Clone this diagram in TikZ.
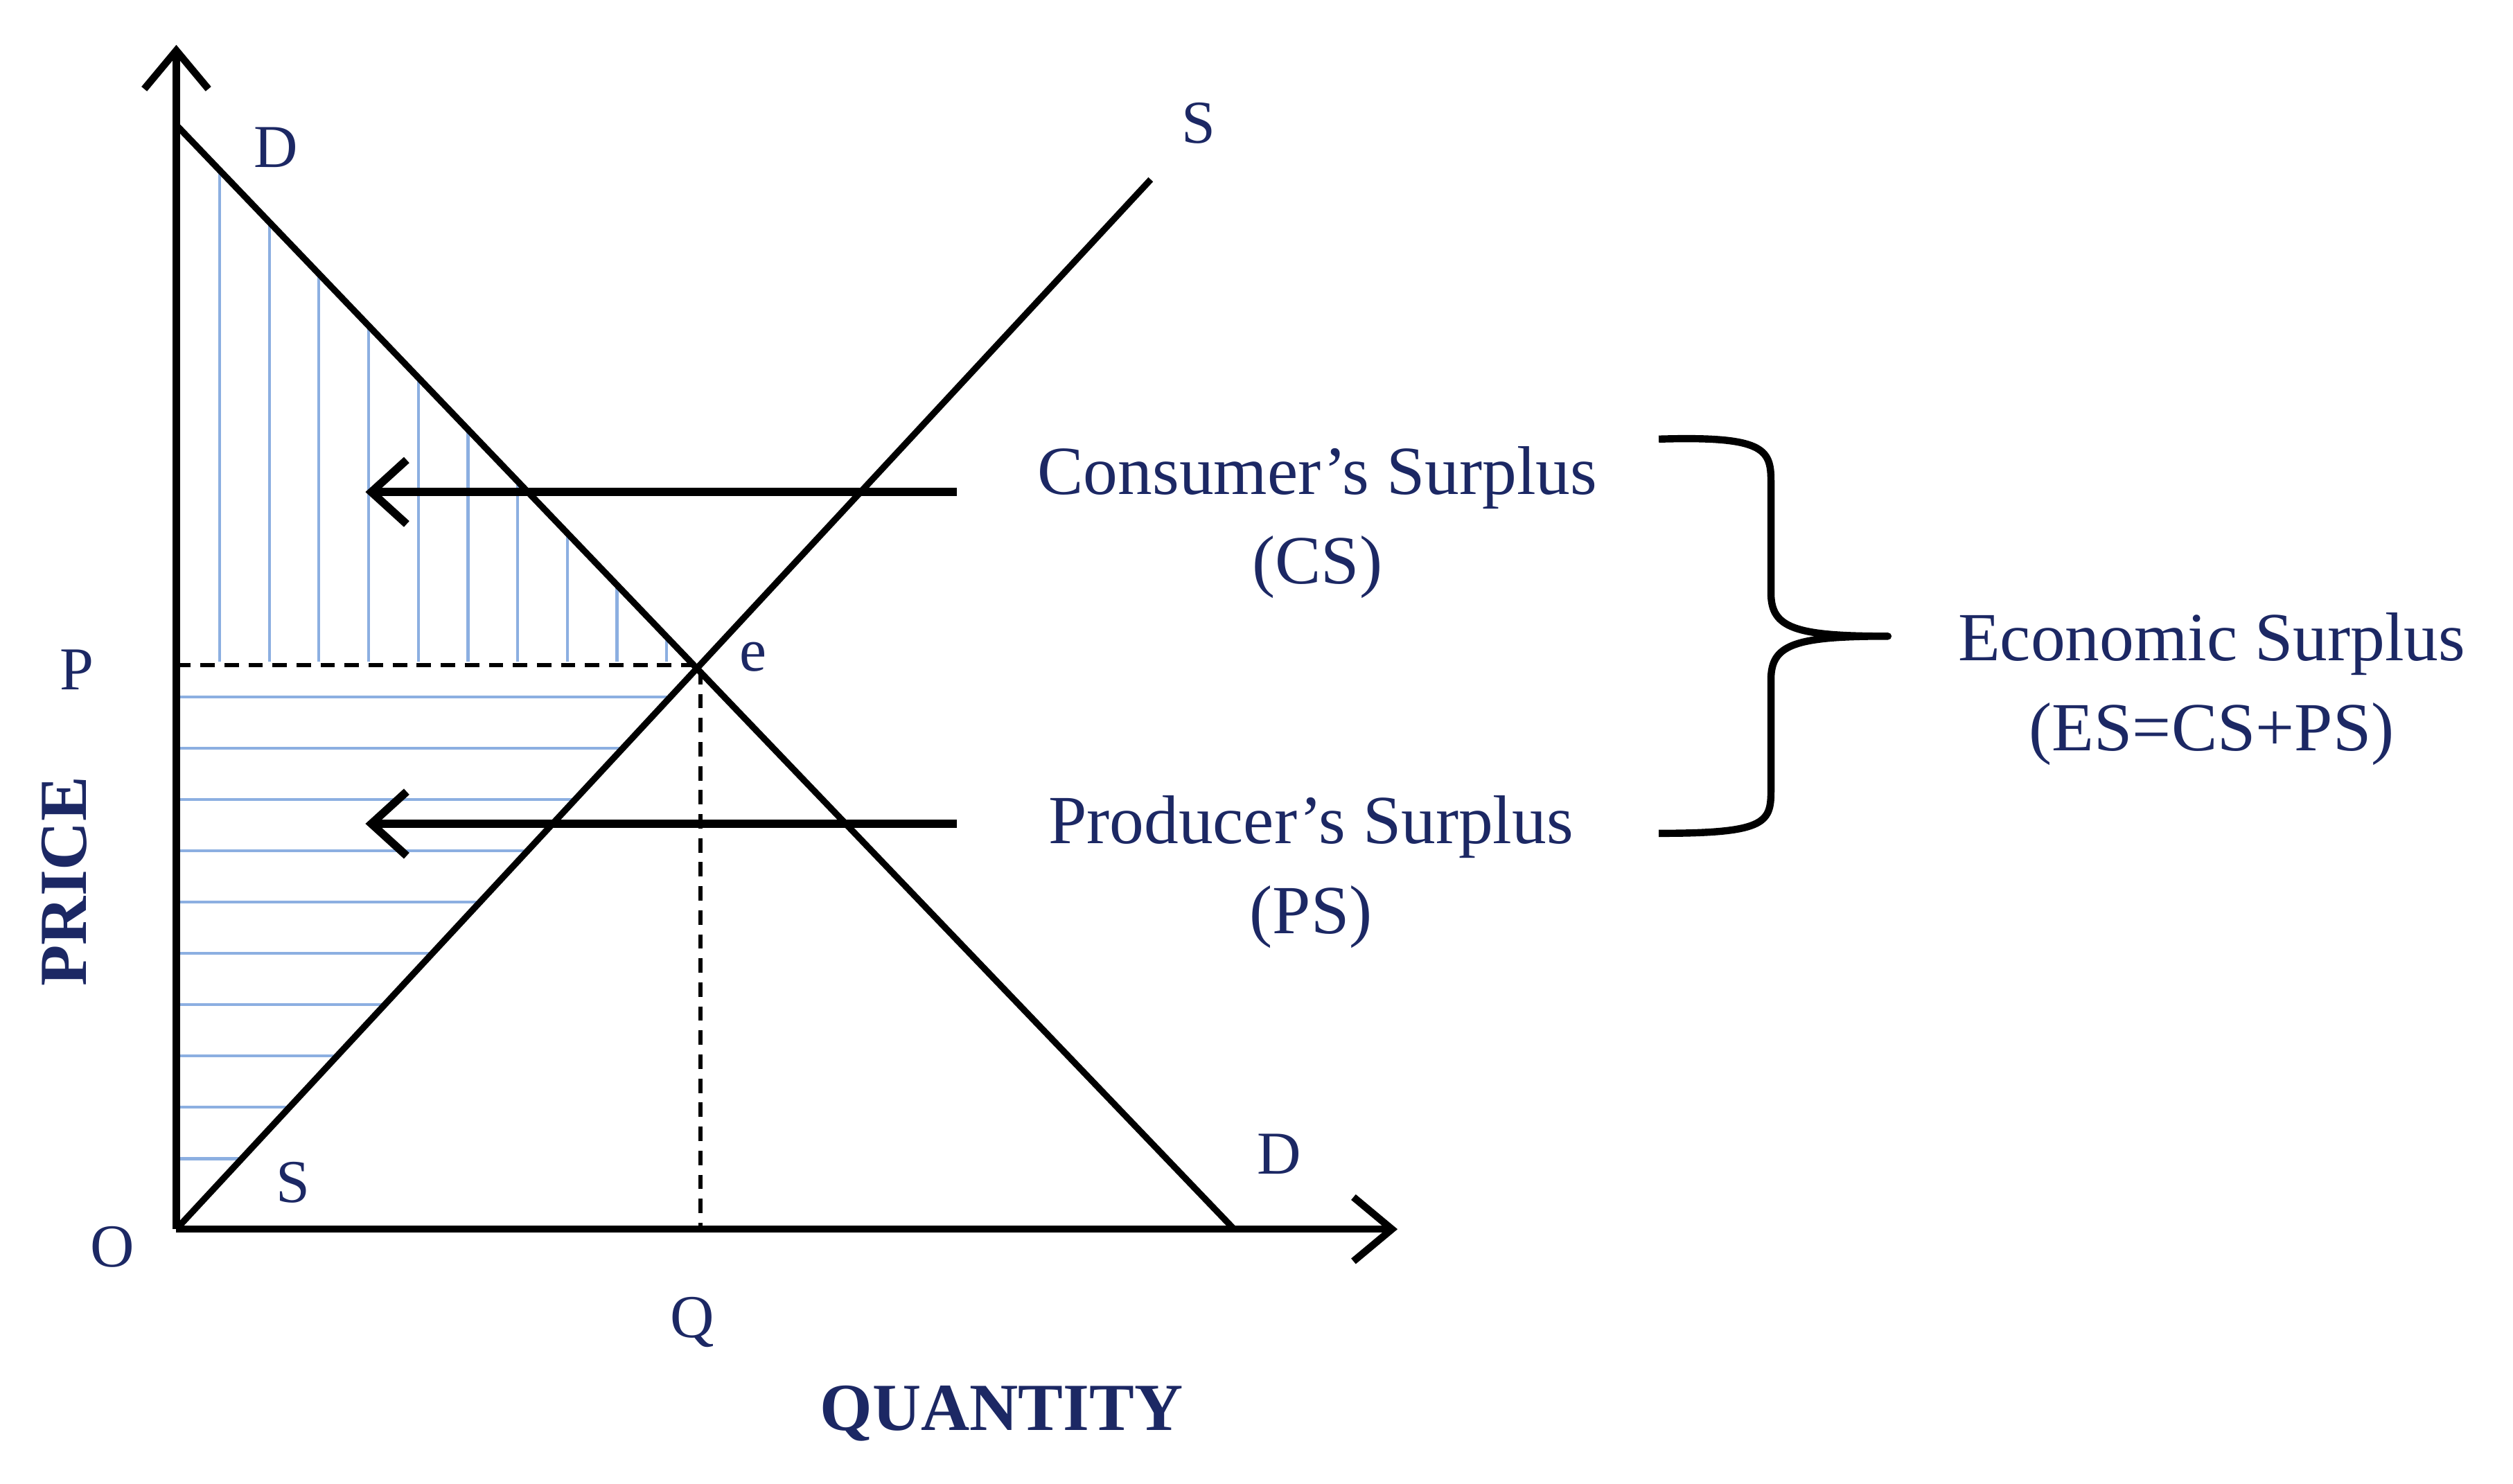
\documentclass[tikz,border=0pt]{standalone}
\usepackage{fontspec}
\setmainfont{Liberation Serif}
\usetikzlibrary{arrows.meta}
\definecolor{navy}{RGB}{28,40,100}
\definecolor{hatch}{RGB}{140,175,225}
\tikzset{lbl/.style={text=navy,font=\fontsize{38}{42}\selectfont},
big/.style={text=navy,font=\fontsize{43}{56}\selectfont,align=center},
axis/.style={line width=4.5pt,-{Straight Barb[length=24pt,width=40pt,line width=4.5pt]}},
curve/.style={line width=4pt},
hl/.style={hatch,line width=1.8pt}}
\begin{document}
\begin{tikzpicture}[x=1pt,y=-1pt]
\useasboundingbox (0,0) rectangle (1568,926);
% hatching
\foreach \x in {137,168,...,420}{\draw[hl] (\x,413) -- (\x,{78+(\x-110)/660*689});}
\foreach \y in {435,467,...,740}{\draw[hl] (110,\y) -- ({110+(767-\y)/655*608},\y);}
\coordinate (O) at (110,767);
\coordinate (ytop) at (110,28);
\coordinate (xend) at (872,767);
\coordinate (d1) at (110,78); \coordinate (d2) at (770,767);
\coordinate (s2) at (718,112);
\coordinate (E) at (437,415);
\coordinate (Py) at (110,415); \coordinate (Qx) at (437,767);
\draw[axis] (O) -- (ytop);
\draw[axis] (O) -- (xend);
\draw[curve] (d1) -- (d2);
\draw[curve] (O) -- (s2);
\draw[line width=2.5pt,dash pattern=on 9pt off 6pt] (Py) -- (E) -- (Qx);
\coordinate (a1s) at (597,307); \coordinate (a1e) at (228,307);
\coordinate (a2s) at (597,514); \coordinate (a2e) at (228,514);
\draw[line width=5pt,-{Straight Barb[length=22pt,width=40pt,line width=5pt]}] (a1s) -- (a1e);
\draw[line width=5pt,-{Straight Barb[length=22pt,width=40pt,line width=5pt]}] (a2s) -- (a2e);
\node[lbl] (lD1) at (172,92) {D};
\node[lbl] (lS1) at (748,77) {S};
\node[lbl] (lP) at (48,418) {P};
\node[lbl] (le) at (470,410) {e};
\node[lbl] (lS2) at (183,738) {S};
\node[lbl] (lD2) at (798,720) {D};
\node[lbl] (lO) at (70,778) {O};
\node[lbl] (lQ) at (432,825) {Q};
\node[text=navy,font=\bfseries\fontsize{42}{46}\selectfont,rotate=90] (price) at (40,550) {PRICE};
\node[text=navy,font=\bfseries\fontsize{42}{46}\selectfont] (qty) at (625,882) {QUANTITY};
\node[big] (cs) at (822,326) {Consumer’s Surplus\\(CS)};
\node[big] (ps) at (818,544) {Producer’s Surplus\\(PS)};
\node[big] (es) at (1380,430) {Economic Surplus\\(ES=CS+PS)};
\coordinate (bt) at (1035,274); \coordinate (bb) at (1035,520);
\coordinate (btip) at (1178,397);
\draw[line width=4.5pt,line join=round] (bt) .. controls (1100,272) and (1105,280) .. (1105,300)
  -- (1105,370) .. controls (1105,392) and (1120,397) .. (btip)
  .. controls (1120,397) and (1105,402) .. (1105,424)
  -- (1105,494) .. controls (1105,514) and (1100,520) .. (bb);
\end{tikzpicture}
\end{document}
